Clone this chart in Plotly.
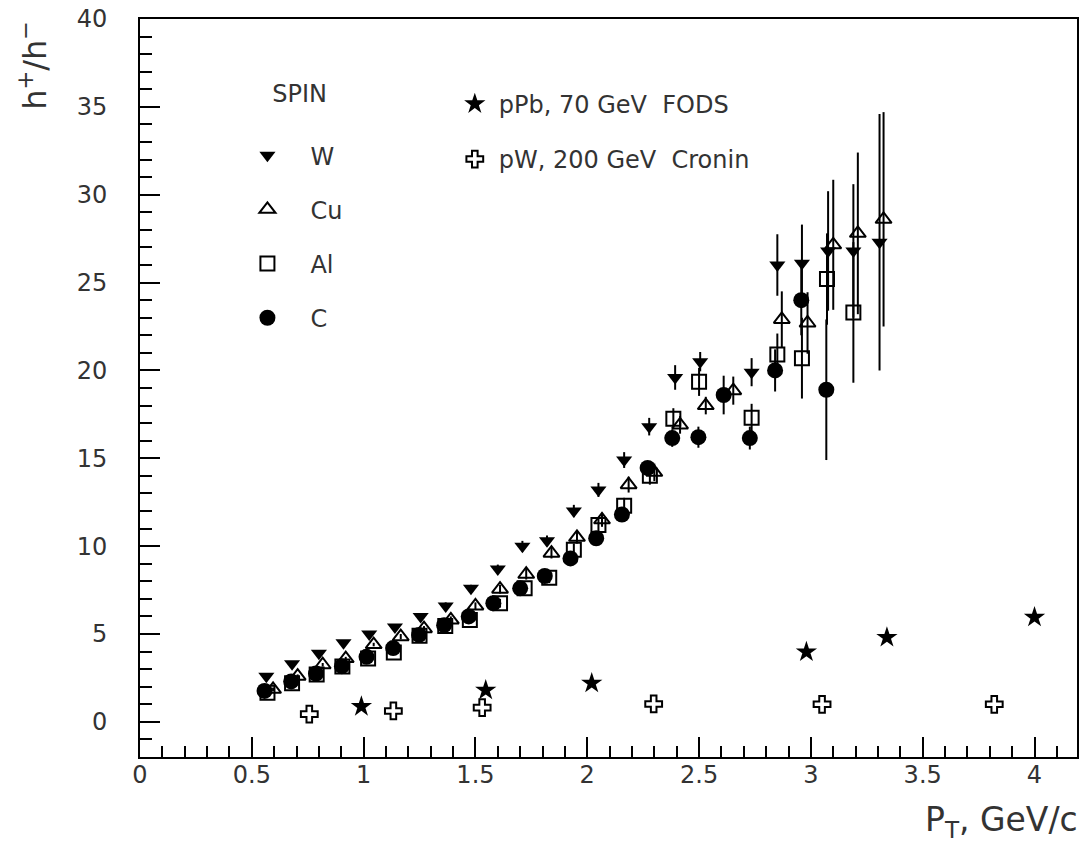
import plotly.graph_objects as go

# ---------------- data ----------------
x_W = [0.565, 0.68, 0.80, 0.91, 1.025, 1.14, 1.255, 1.367, 1.48, 1.60, 1.71, 1.82,
       1.94, 2.05, 2.165, 2.277, 2.393, 2.505, 2.735, 2.85, 2.96, 3.077, 3.19, 3.307]
y_W = [2.6, 3.3, 3.9, 4.5, 5.0, 5.4, 6.0, 6.6, 7.6, 8.7, 10.0, 10.3,
       12.0, 13.2, 14.9, 16.8, 19.6, 20.5, 19.9, 26.0, 26.1, 26.8, 26.8, 27.3]
e_W = [0.1, 0.1, 0.1, 0.1, 0.1, 0.15, 0.15, 0.2, 0.2, 0.25, 0.3, 0.3,
       0.35, 0.4, 0.45, 0.5, 0.7, 0.55, 0.8, 1.75, 2.2, 3.4, 3.8, 7.3]

x_Cu = [0.595, 0.705, 0.817, 0.92, 1.045, 1.166, 1.27, 1.39, 1.50, 1.61, 1.727, 1.84,
        1.954, 2.066, 2.185, 2.30, 2.415, 2.53, 2.653, 2.87, 2.985, 3.10, 3.21, 3.325]
y_Cu = [1.85, 2.6, 3.25, 3.6, 4.4, 4.85, 5.3, 5.8, 6.6, 7.55, 8.4, 9.6,
        10.5, 11.5, 13.5, 14.2, 16.9, 18.0, 18.85, 22.9, 22.7, 27.15, 27.8, 28.6]
e_Cu = [0.1, 0.1, 0.1, 0.1, 0.1, 0.15, 0.15, 0.2, 0.2, 0.25, 0.3, 0.3,
        0.35, 0.4, 0.45, 0.5, 0.5, 0.5, 0.8, 1.6, 1.75, 3.7, 4.6, 6.1]

x_Al = [0.57, 0.68, 0.79, 0.905, 1.02, 1.135, 1.25, 1.365, 1.475, 1.61, 1.72, 1.83,
        1.94, 2.05, 2.165, 2.28, 2.385, 2.50, 2.735, 2.85, 2.96, 3.072, 3.19]
y_Al = [1.65, 2.2, 2.7, 3.15, 3.6, 3.95, 4.9, 5.45, 5.8, 6.75, 7.6, 8.2,
        9.8, 11.2, 12.3, 14.0, 17.25, 19.35, 17.3, 20.9, 20.7, 25.2, 23.3]
e_Al = [0.1, 0.1, 0.1, 0.1, 0.1, 0.15, 0.15, 0.2, 0.2, 0.25, 0.3, 0.3,
        0.35, 0.4, 0.45, 0.5, 0.6, 0.8, 0.8, 1.2, 2.3, 2.6, 4.0]

x_C = [0.557, 0.676, 0.787, 0.903, 1.013, 1.132, 1.248, 1.36, 1.47, 1.58, 1.70, 1.81,
       1.925, 2.04, 2.155, 2.27, 2.38, 2.497, 2.61, 2.727, 2.84, 2.957, 3.069]
y_C = [1.76, 2.3, 2.75, 3.17, 3.7, 4.2, 4.95, 5.5, 6.0, 6.75, 7.6, 8.3,
       9.3, 10.45, 11.8, 14.45, 16.15, 16.2, 18.6, 16.15, 20.0, 24.0, 18.9]
e_C = [0.05, 0.05, 0.05, 0.1, 0.1, 0.1, 0.15, 0.15, 0.2, 0.2, 0.25, 0.25,
       0.3, 0.3, 0.35, 0.3, 0.5, 0.6, 1.1, 0.65, 1.2, 2.0, 4.0]

x_pPb = [0.99, 1.546, 2.02, 2.98, 3.34, 4.0]
y_pPb = [0.87, 1.8, 2.2, 3.98, 4.8, 5.95]

x_pW = [0.757, 1.133, 1.53, 2.297, 3.05, 3.82]
y_pW = [0.44, 0.62, 0.81, 1.02, 1.0, 1.0]

# ---------------- figure ----------------
FONT = "DejaVu Sans"
TXT = "#333333"
NB = "\u00a0"
fig = go.Figure()

def err(vals):
    return dict(type="data", array=vals, visible=True, color="black",
                thickness=2, width=0)

fig.add_trace(go.Scatter(x=x_W, y=y_W, error_y=err(e_W), mode="markers", name="W",
                         legend="legend", legendgroup="g1",
                         marker=dict(symbol="triangle-down", size=14, color="black",
                                     line=dict(width=0))))
fig.add_trace(go.Scatter(x=x_Cu, y=y_Cu, error_y=err(e_Cu), mode="markers", name="Cu",
                         legend="legend", legendgroup="g2",
                         marker=dict(symbol="triangle-up-open", size=14, color="black",
                                     line=dict(width=2, color="black"))))
fig.add_trace(go.Scatter(x=x_Al, y=y_Al, error_y=err(e_Al), mode="markers", name="Al",
                         legend="legend", legendgroup="g3",
                         marker=dict(symbol="square-open", size=14, color="black",
                                     line=dict(width=2, color="black"))))
fig.add_trace(go.Scatter(x=x_C, y=y_C, error_y=err(e_C), mode="markers", name="C",
                         legend="legend", legendgroup="g4",
                         marker=dict(symbol="circle", size=16, color="black",
                                     line=dict(width=0))))
fig.add_trace(go.Scatter(x=x_pPb, y=y_pPb, mode="markers", name="pPb, 70 GeV" + NB * 2 + "FODS",
                         legend="legend2", legendgroup="g5",
                         marker=dict(symbol="star", size=16, color="black",
                                     line=dict(width=0))))
fig.add_trace(go.Scatter(x=x_pW, y=y_pW, mode="markers", name="pW, 200 GeV" + NB * 2 + "Cronin",
                         legend="legend2", legendgroup="g6",
                         marker=dict(symbol="cross-open", size=14, color="black",
                                     line=dict(width=2, color="black"))))

axis_common = dict(showline=True, linecolor="black", linewidth=2, mirror=True,
                   ticks="inside", ticklen=20, tickwidth=2, tickcolor="black",
                   showgrid=False, zeroline=False,
                   tickfont=dict(family=FONT, size=24, color=TXT))

fig.update_layout(
    width=1084, height=850,
    margin=dict(l=140, r=5, t=16, b=93),
    paper_bgcolor="white", plot_bgcolor="white",
    xaxis=dict(range=[0, 4.19], tick0=0, dtick=0.5, ticklabelstandoff=-5,
               minor=dict(dtick=0.1, ticklen=11, tickwidth=2, ticks="inside",
                          tickcolor="black", showgrid=False),
               **axis_common),
    yaxis=dict(range=[-2, 40], tick0=0, dtick=5, ticklabelstandoff=26,
               minor=dict(dtick=1, ticklen=12, tickwidth=2, ticks="inside",
                          tickcolor="black", showgrid=False),
               **axis_common),
    legend=dict(x=0.0901, y=0.93, xanchor="left", yanchor="top",
                bgcolor="rgba(0,0,0,0)", borderwidth=0,
                title=dict(text=NB * 6 + "SPIN<br>" + NB,
                           font=dict(family=FONT, size=24, color=TXT)),
                font=dict(family=FONT, size=24, color=TXT),
                tracegroupgap=20, itemwidth=76),
    legend2=dict(x=0.3317, y=0.915, xanchor="left", yanchor="top",
                 bgcolor="rgba(0,0,0,0)", borderwidth=0,
                 font=dict(family=FONT, size=24, color=TXT),
                 tracegroupgap=21, itemwidth=38),
    annotations=[
        dict(text="h<sup>+</sup>/h<sup>\u2212</sup>", textangle=-90,
             xref="paper", yref="paper", x=-0.115, y=1.0,
             xanchor="center", yanchor="top", showarrow=False,
             font=dict(family=FONT, size=32, color=TXT)),
        dict(text="P<sub>T</sub>," + NB + "GeV/c",
             xref="paper", yref="paper", x=1.003, y=-0.088,
             xanchor="right", yanchor="middle", showarrow=False,
             font=dict(family=FONT, size=33, color=TXT)),
    ],
)

fig.write_html("out.html",
               config={"displayModeBar": False},
               post_script="document.body.style.margin='0';"
                           "document.body.style.overflow='hidden';")
